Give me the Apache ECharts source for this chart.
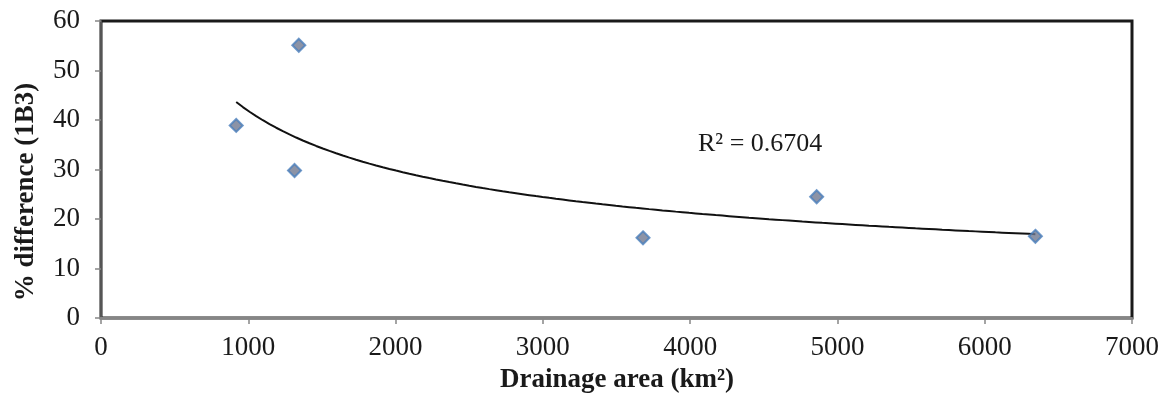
<!DOCTYPE html>
<html>
<head>
<meta charset="utf-8">
<script src="https://cdn.jsdelivr.net/npm/echarts@6/dist/echarts.min.js"></script>
<style>
  html, body { margin: 0; padding: 0; background: #fff; }
  #chart { width: 1172px; height: 395px; }
</style>
</head>
<body>
<div id="chart"></div>
<script>
// Data
var drainageArea = [918, 1343, 1314, 3680, 4859, 6344];
var pctDifference = [38.9, 55.1, 29.8, 16.2, 24.5, 16.5];
var xTicks = [0, 1000, 2000, 3000, 4000, 5000, 6000, 7000];
var yTicks = [0, 10, 20, 30, 40, 50, 60];
var xTitle = 'Drainage area (km²)';
var yTitle = '% difference (1B3)';
var r2Label = 'R² = 0.6704';

// Power trendline (least squares in log-log space) fitted to the data above
function powerFit(xs, ys) {
  var n = xs.length, mx = 0, my = 0, i;
  var lx = [], ly = [];
  for (i = 0; i < n; i++) { lx.push(Math.log(xs[i])); ly.push(Math.log(ys[i])); mx += lx[i]; my += ly[i]; }
  mx /= n; my /= n;
  var sxy = 0, sxx = 0;
  for (i = 0; i < n; i++) { sxy += (lx[i] - mx) * (ly[i] - my); sxx += (lx[i] - mx) * (lx[i] - mx); }
  var b = sxy / sxx;
  var a = Math.exp(my - b * mx);
  return { a: a, b: b };
}
var fit = powerFit(drainageArea, pctDifference);
var xMin = Math.min.apply(null, drainageArea), xMax = Math.max.apply(null, drainageArea);
var trend = [];
var steps = 120;
for (var k = 0; k <= steps; k++) {
  var xv = xMin + (xMax - xMin) * k / steps;
  trend.push([xv, fit.a * Math.pow(xv, fit.b)]);
}

var points = drainageArea.map(function (x, i) { return [x, pctDifference[i]]; });

var FONT = '"Liberation Serif", "DejaVu Serif", serif';
var chart = echarts.init(document.getElementById('chart'), null, { renderer: 'canvas' });
chart.setOption({
  animation: false,
  backgroundColor: '#ffffff',
  grid: {
    left: 101, right: 40, top: 21, bottom: 77,
    show: true, borderColor: '#1a1a1a', borderWidth: 3, backgroundColor: '#ffffff'
  },
  xAxis: {
    type: 'value',
    min: xTicks[0], max: xTicks[xTicks.length - 1], interval: 1000,
    splitLine: { show: false },
    axisLine: { show: true, onZero: false, lineStyle: { color: '#868686', width: 2 } },
    axisTick: { show: true, inside: false, length: 6, lineStyle: { color: '#868686', width: 1.5 } },
    axisLabel: {
      fontFamily: FONT, fontSize: 27, color: '#1a1a1a', margin: 16,
      formatter: function (v) { return String(v); }
    }
  },
  yAxis: {
    type: 'value',
    min: yTicks[0], max: yTicks[yTicks.length - 1], interval: 10,
    splitLine: { show: false },
    axisLine: { show: true, onZero: false, lineStyle: { color: '#555555', width: 2 } },
    axisTick: { show: true, inside: false, length: 6, lineStyle: { color: '#868686', width: 1.5 } },
    axisLabel: {
      fontFamily: FONT, fontSize: 27, color: '#1a1a1a', margin: 21,
      formatter: function (v) { return String(v); }
    }
  },
  series: [
    {
      type: 'line',
      data: trend,
      showSymbol: false,
      symbol: 'none',
      smooth: false,
      lineStyle: { color: '#111111', width: 2 },
      z: 3
    },
    {
      type: 'scatter',
      data: points,
      symbol: 'diamond',
      symbolSize: 13,
      itemStyle: { color: '#6f7890', borderColor: '#4a7ebb', borderWidth: 2 },
      z: 4
    }
  ],
  graphic: [
    {
      type: 'text',
      left: 698, top: 131,
      style: { text: r2Label, font: '26px ' + FONT, fill: '#1a1a1a' }
    },
    {
      type: 'text',
      x: 617, y: 380,
      style: { text: xTitle, font: 'bold 27px ' + FONT, fill: '#1a1a1a', align: 'center', verticalAlign: 'middle' }
    },
    {
      type: 'text',
      x: 26, y: 192,
      rotation: Math.PI / 2,
      style: { text: yTitle, font: 'bold 27px ' + FONT, fill: '#1a1a1a', align: 'center', verticalAlign: 'middle' }
    }
  ]
});
</script>
</body>
</html>
